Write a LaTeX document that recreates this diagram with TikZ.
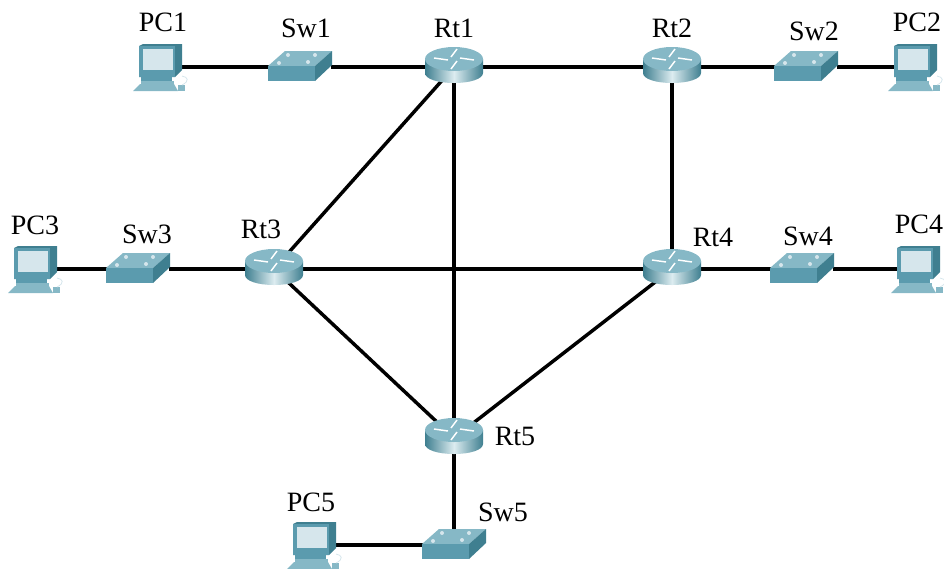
\documentclass[tikz,border=0pt]{standalone}
\usepackage{fontspec}
\setmainfont{Liberation Serif}
\usepackage{tikz}
\usetikzlibrary{shapes.geometric}
\definecolor{tealdark}{HTML}{3F7F90}
\definecolor{tealmid}{HTML}{5B9BAE}
\definecolor{teallight}{HTML}{86B8C6}
\definecolor{tealpale}{HTML}{D6E6EC}
\definecolor{tealshine}{HTML}{DCECF0}
\tikzset{
    rthub/.style={ellipse,minimum width=36pt,minimum height=20pt,inner sep=0pt},
    swhub/.style={rectangle,minimum width=46pt,minimum height=20pt,inner sep=0pt},
    pchub/.style={rectangle,minimum width=30pt,minimum height=22pt,inner sep=0pt},
    lab/.style={font=\fontsize{21}{23}\selectfont,inner sep=0pt},
    link/.style={line width=2.6pt,black},
    routericon/.pic={
        \path[left color=tealdark,right color=tealdark,middle color=tealshine]
            (-29,-8) -- (-29,6) .. controls (-29,12) and (-16,16) .. (0,16)
            .. controls (16,16) and (29,12) .. (29,6) -- (29,-8) -- cycle;
        \fill[teallight] (0,-8) ellipse [x radius=29,y radius=12];
        \draw[white,line width=1.1pt] (-20,-9) -- (-6,-7);
        \draw[white,line width=1.1pt] (20,-7) -- (6,-9);
        \draw[white,line width=1.1pt] (3,-18) -- (-3,-10);
        \draw[white,line width=1.1pt] (-3,2) -- (3,-6);
    },
    switchicon/.pic={
        \fill[teallight] (-32,-1) -- (-15,-16) -- (32,-16) -- (15,-1) -- cycle;
        \fill[tealmid] (-32,-1) rectangle (15,14);
        \fill[tealdark] (15,-1) -- (32,-16) -- (32,-2) -- (15,14) -- cycle;
        \fill[tealpale] (-21,-4) circle (2);
        \fill[tealpale] (-12,-12) circle (2);
        \fill[tealpale] (8,-5) circle (2);
        \fill[tealpale] (15,-12) circle (2);
    },
    pcicon/.pic={
        \fill[tealdark] (-21,-21) -- (-17,-23) -- (22,-23) -- (22,3) -- (15,10) -- (-21,10) -- cycle;
        \fill[tealmid] (-21,-21) rectangle (15,10);
        \fill[tealpale] (-17,-18) rectangle (13,3);
        \fill[tealmid] (-19,10) rectangle (12,14);
        \fill[teallight] (-19,14) rectangle (14,17);
        \fill[teallight] (-20,17) -- (14,17) -- (18,24) -- (-27,24) -- cycle;
        \fill[teallight] (18,18) rectangle (25,24);
        \draw[tealpale,line width=.6pt] (22,18) .. controls (30,14) and (28,10) .. (22,9);
    }
}
\begin{document}
\begin{tikzpicture}[x=0.75pt,y=-0.75pt]
    \useasboundingbox (0,0) rectangle (944,568);
    % routers
    \node[rthub] (rt1) at (454,67) {};
    \node[rthub] (rt2) at (672,67) {};
    \node[rthub] (rt3) at (274,269) {};
    \node[rthub] (rt4) at (672,269) {};
    \node[rthub] (rt5) at (454,438) {};
    % switches
    \node[swhub] (sw1) at (300,67) {};
    \node[swhub] (sw2) at (806,67) {};
    \node[swhub] (sw3) at (138,269) {};
    \node[swhub] (sw4) at (802,269) {};
    \node[swhub] (sw5) at (454,545) {};
    % hosts
    \node[pchub] (pc1) at (160,67) {};
    \node[pchub] (pc2) at (915,67) {};
    \node[pchub] (pc3) at (35,269) {};
    \node[pchub] (pc4) at (918,269) {};
    \node[pchub] (pc5) at (314,545) {};
    % links
    \draw[link] (pc1) -- (sw1);
    \draw[link] (sw1) -- (rt1);
    \draw[link] (rt1) -- (rt2);
    \draw[link] (rt2) -- (sw2);
    \draw[link] (sw2) -- (pc2);
    \draw[link] (rt1) -- (rt3);
    \draw[link] (rt1) -- (rt5);
    \draw[link] (rt2) -- (rt4);
    \draw[link] (pc3) -- (sw3);
    \draw[link] (sw3) -- (rt3);
    \draw[link] (rt3) -- (rt4);
    \draw[link] (rt4) -- (sw4);
    \draw[link] (sw4) -- (pc4);
    \draw[link] (rt3) -- (rt5);
    \draw[link] (rt4) -- (rt5);
    \draw[link] (rt5) -- (sw5);
    \draw[link] (sw5) -- (pc5);
    % icons
    \pic at (rt1) {routericon};
    \pic at (rt2) {routericon};
    \pic at (rt3) {routericon};
    \pic at (rt4) {routericon};
    \pic at (rt5) {routericon};
    \pic at (sw1) {switchicon};
    \pic at (sw2) {switchicon};
    \pic at (sw3) {switchicon};
    \pic at (sw4) {switchicon};
    \pic at (sw5) {switchicon};
    \pic at (pc1) {pcicon};
    \pic at (pc2) {pcicon};
    \pic at (pc3) {pcicon};
    \pic at (pc4) {pcicon};
    \pic at (pc5) {pcicon};
    % labels
    \node[lab] (rt1lab) at (454,28) {Rt1};
    \node[lab] (rt2lab) at (672,28) {Rt2};
    \node[lab] (rt3lab) at (261,229) {Rt3};
    \node[lab] (rt4lab) at (713,237) {Rt4};
    \node[lab] (rt5lab) at (515,436) {Rt5};
    \node[lab] (sw1lab) at (306,28) {Sw1};
    \node[lab] (sw2lab) at (814,31) {Sw2};
    \node[lab] (sw3lab) at (147,234) {Sw3};
    \node[lab] (sw4lab) at (808,236) {Sw4};
    \node[lab] (sw5lab) at (503,512) {Sw5};
    \node[lab] (pc1lab) at (163,22) {PC1};
    \node[lab] (pc2lab) at (917,22) {PC2};
    \node[lab] (pc3lab) at (35,225) {PC3};
    \node[lab] (pc4lab) at (919,224) {PC4};
    \node[lab] (pc5lab) at (311,502) {PC5};
\end{tikzpicture}
\end{document}
